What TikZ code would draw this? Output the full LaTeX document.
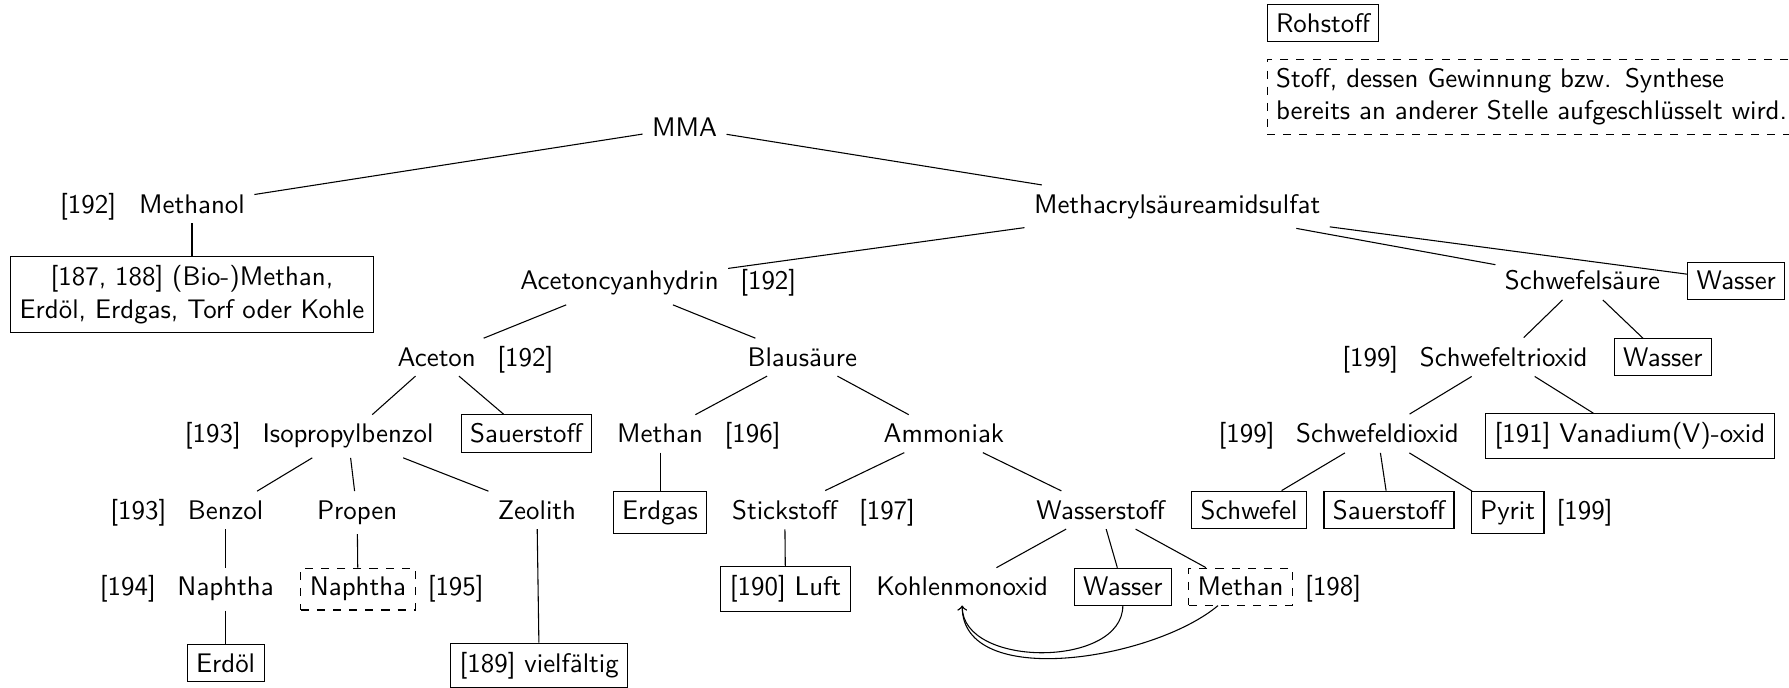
\documentclass[tikz,border=0pt]{standalone}
\usepackage{fontspec}
\usetikzlibrary{positioning}

\begin{document}
\begin{tikzpicture}[
  font=\sffamily,
  stoff/.style={anchor=base},
  roh/.style={stoff, draw},
  andere/.style={stoff, draw, dashed},
  kante/.style={line width=0.4pt},
  pfeil/.style={kante, ->}
]
\useasboundingbox (0,0) rectangle (23.39,8.99);

% Legende
\node[roh, anchor=north west] (legroh) at (16.56,8.94) {Rohstoff};
\node[draw, dashed, anchor=north west, align=left, text width=6.9cm] (legandere) at (16.56,8.22) {Stoff, dessen Gewinnung bzw. Synthese\\bereits an anderer Stelle aufgeschlüsselt wird.};

% Stoffe, zeilenweise
\node[stoff] (mma) at (8.95,7.2) {MMA};
\node[stoff] (methanol) at (2.51,6.2) {Methanol};
\node[stoff] (masulf) at (15.39,6.2) {Methacrylsäureamidsulfat};
\node[roh, align=center, anchor=north] (rohmethanol) at (2.51,5.64) {[187, 188] (Bio-)Methan,\\Erdöl, Erdgas, Torf oder Kohle};
\node[stoff] (acch) at (8.10,5.2) {Acetoncyanhydrin};
\node[stoff] (h2so4) at (20.69,5.2) {Schwefelsäure};
\node[roh] (wasserA) at (22.70,5.2) {Wasser};
\node[stoff] (aceton) at (5.71,4.2) {Aceton};
\node[stoff] (hcn) at (10.49,4.2) {Blausäure};
\node[stoff] (so3) at (19.66,4.2) {Schwefeltrioxid};
\node[roh] (wasserB) at (21.74,4.2) {Wasser};
\node[stoff] (cumol) at (4.55,3.2) {Isopropylbenzol};
\node[roh] (sauerstoffA) at (6.88,3.2) {Sauerstoff};
\node[stoff] (methan) at (8.63,3.2) {Methan};
\node[stoff] (nh3) at (12.34,3.2) {Ammoniak};
\node[stoff] (so2) at (18.01,3.2) {Schwefeldioxid};
\node[roh] (v2o5) at (21.31,3.2) {[191] Vanadium(V)-oxid};
\node[stoff] (benzol) at (2.95,2.2) {Benzol};
\node[stoff] (propen) at (4.67,2.2) {Propen};
\node[stoff] (zeolith) at (7.02,2.2) {Zeolith};
\node[roh] (erdgas) at (8.63,2.2) {Erdgas};
\node[stoff] (n2) at (10.26,2.2) {Stickstoff};
\node[stoff] (h2) at (14.39,2.2) {Wasserstoff};
\node[roh] (schwefel) at (16.33,2.2) {Schwefel};
\node[roh] (sauerstoffB) at (18.16,2.2) {Sauerstoff};
\node[roh] (pyrit) at (19.71,2.2) {Pyrit};
\node[stoff] (naphtha) at (2.95,1.2) {Naphtha};
\node[andere] (naphthaB) at (4.68,1.2) {Naphtha};
\node[roh] (luft) at (10.27,1.2) {[190] Luft};
\node[stoff] (co) at (12.58,1.2) {Kohlenmonoxid};
\node[roh] (wasserC) at (14.68,1.2) {Wasser};
\node[andere] (methanB) at (16.22,1.2) {Methan};
\node[roh] (erdoel) at (2.95,0.2) {Erdöl};
\node[roh] (vielf) at (7.05,0.2) {[189] vielfältig};

% Quellenangaben
\node[base left=1.5pt of methanol] (rmethanol) {[192]};
\node[base right=1pt of acch] (racch) {[192]};
\node[base right=1pt of aceton] (raceton) {[192]};
\node[base left=1pt of so3] (rso3) {[199]};
\node[base left=1pt of cumol] (rcumol) {[193]};
\node[base right=1pt of methan] (rmethan) {[196]};
\node[base left=1pt of so2] (rso2) {[199]};
\node[base left=1pt of benzol] (rbenzol) {[193]};
\node[base right=1pt of n2] (rn2) {[197]};
\node[base right=1pt of pyrit] (rpyrit) {[199]};
\node[base left=1pt of naphtha] (rnaphtha) {[194]};
\node[base right=1pt of naphthaB] (rnaphthaB) {[195]};
\node[base right=1pt of methanB] (rmethanB) {[198]};

% Kanten
\draw[kante] (mma) -- (methanol);
\draw[kante] (mma) -- (masulf);
\draw[kante] (methanol) -- (rohmethanol);
\draw[kante] (masulf) -- (acch);
\draw[kante] (masulf) -- (h2so4);
\draw[kante] (masulf) -- (wasserA);
\draw[kante] (acch) -- (aceton);
\draw[kante] (acch) -- (hcn);
\draw[kante] (h2so4) -- (so3);
\draw[kante] (h2so4) -- (wasserB);
\draw[kante] (aceton) -- (cumol);
\draw[kante] (aceton) -- (sauerstoffA);
\draw[kante] (hcn) -- (methan);
\draw[kante] (hcn) -- (nh3);
\draw[kante] (so3) -- (so2);
\draw[kante] (so3) -- (v2o5);
\draw[kante] (cumol) -- (benzol);
\draw[kante] (cumol) -- (propen);
\draw[kante] (cumol) -- (zeolith);
\draw[kante] (methan) -- (erdgas);
\draw[kante] (nh3) -- (n2);
\draw[kante] (nh3) -- (h2);
\draw[kante] (so2) -- (schwefel);
\draw[kante] (so2) -- (sauerstoffB);
\draw[kante] (so2) -- (pyrit);
\draw[kante] (benzol) -- (naphtha);
\draw[kante] (propen) -- (naphthaB);
\draw[kante] (zeolith) -- (vielf);
\draw[kante] (n2) -- (luft);
\draw[kante] (h2) -- (co);
\draw[kante] (h2) -- (wasserC);
\draw[kante] (h2) -- (methanB);
\draw[kante] (naphtha) -- (erdoel);

% Rueckfuehrung zum Kohlenmonoxid
\draw[pfeil] (wasserC.south) to[out=-90,in=-90] (co.south);
\draw[pfeil] (methanB) to[out=220,in=-90,looseness=0.85] (co.south);
\end{tikzpicture}
\end{document}
